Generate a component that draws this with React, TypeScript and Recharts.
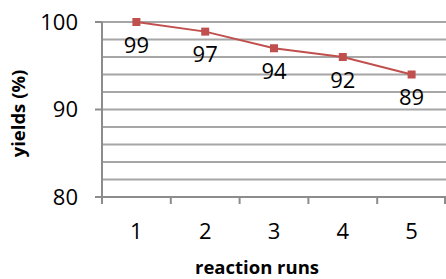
import { Label, LabelList, Line, LineChart, ReferenceLine, XAxis, YAxis } from 'recharts';

// reaction run vs yield, with the reported labels under each point
const runs = ['1', '2', '3', '4', '5'];
const yields = [100, 98.9, 97, 96, 94];
const yieldLabels = ['99', '97', '94', '92', '89'];
const yTicks = [80, 90, 100];
const gridValues = [82, 84, 86, 88, 90, 92, 94, 96, 98, 100];

const data = runs.map((run, i) => ({ run, value: yields[i], label: yieldLabels[i] }));

const FONT = '"Open Sans", "Liberation Sans", sans-serif';
const AXIS_GRAY = '#8c8c8c';
const GRID_GRAY = '#a6a6a6';
const RED = '#c0504d';
const X_TICK_SIZE = 7;
const X_TICK_MARGIN = 19;

function RunTick(props: any) {
  const { x, y, payload, index, visibleTicksCount } = props;
  const half = payload?.offset ?? 0;
  const axisY = y - X_TICK_SIZE - X_TICK_MARGIN;
  const isLast = index === visibleTicksCount - 1;
  return (
    <g>
      <line x1={x - half} x2={x - half} y1={axisY} y2={axisY + X_TICK_SIZE} stroke={AXIS_GRAY} strokeWidth={2} />
      {isLast && (
        <line x1={x + half - 1} x2={x + half - 1} y1={axisY} y2={axisY + X_TICK_SIZE} stroke={AXIS_GRAY} strokeWidth={2} />
      )}
      <text x={x} y={y} dy="0.71em" textAnchor="middle" fontSize={22} fontFamily={FONT} fill="#000">
        {payload.value}
      </text>
    </g>
  );
}

function SquareDot(props: any) {
  const { cx, cy, index } = props;
  return <rect key={`dot-${index}`} x={cx - 4} y={cy - 4} width={8} height={8} fill={RED} />;
}

export default function App() {
  return (
    <div style={{ width: 446, height: 279 }}>
      <style>{'body{margin:0}'}</style>
      <LineChart width={446} height={279} data={data} margin={{ top: 22, right: 0, bottom: 0, left: 0 }}>
        {gridValues.map((v) => (
          <ReferenceLine key={v} y={v} stroke={GRID_GRAY} strokeWidth={2} />
        ))}
        <XAxis
          dataKey="run"
          scale="band"
          height={82}
          stroke={AXIS_GRAY}
          strokeWidth={2}
          tickLine={false}
          tickSize={X_TICK_SIZE}
          tickMargin={X_TICK_MARGIN}
          tick={<RunTick />}
        >
          <Label
            value="reaction runs"
            position="insideBottom"
            offset={5}
            dx={-17}
            style={{ fontFamily: FONT, fontSize: 18.5, fontWeight: 700, fill: '#000' }}
          />
        </XAxis>
        <YAxis
          type="number"
          domain={[80, 100]}
          ticks={yTicks}
          width={102}
          stroke={AXIS_GRAY}
          strokeWidth={2}
          tickSize={7}
          tickMargin={17}
          tick={{ fontSize: 22, fontFamily: FONT, fill: '#000' }}
        >
          <Label
            value="yields (%)"
            position="insideLeft"
            angle={-90}
            offset={18}
            dy={4}
            style={{ fontFamily: FONT, fontSize: 18.5, fontWeight: 700, fill: '#000', textAnchor: 'middle' }}
          />
        </YAxis>
        <Line
          dataKey="value"
          stroke={RED}
          strokeWidth={2}
          dot={SquareDot}
          activeDot={false}
          isAnimationActive={false}
        >
          <LabelList dataKey="label" position="bottom" offset={15} fontSize={22} fontFamily={FONT} fill="#000" />
        </Line>
      </LineChart>
    </div>
  );
}
